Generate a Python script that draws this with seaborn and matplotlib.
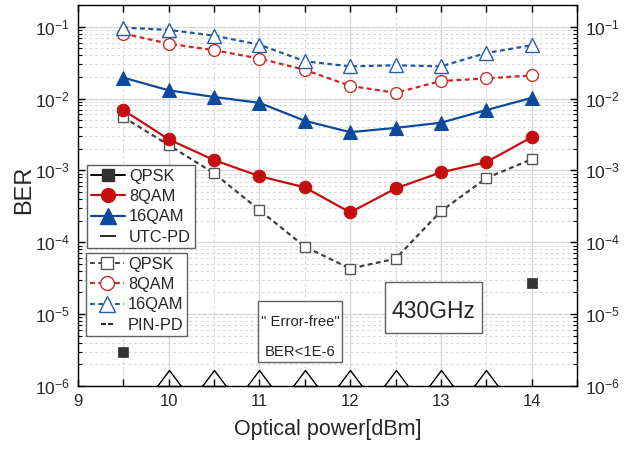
import numpy as np
import pandas as pd
import matplotlib
matplotlib.use("Agg")
import matplotlib.pyplot as plt
import seaborn as sns
from matplotlib.lines import Line2D
from matplotlib.path import Path
from matplotlib.patches import Rectangle
from matplotlib.ticker import LogLocator, MultipleLocator, NullFormatter, FixedLocator

nan = np.nan
power = [9.5, 10, 10.5, 11, 11.5, 12, 12.5, 13, 13.5, 14]
utc_qpsk = [3.0e-6, nan, nan, nan, nan, nan, nan, nan, nan, 2.75e-5]
utc_8qam = [6.9e-3, 2.7e-3, 1.39e-3, 8.3e-4, 5.8e-4, 2.6e-4, 5.6e-4, 9.4e-4, 1.3e-3, 2.9e-3]
utc_16qam = [1.95e-2, 1.3e-2, 1.05e-2, 8.7e-3, 4.9e-3, 3.4e-3, 3.9e-3, 4.6e-3, 6.9e-3, 1.02e-2]
pin_qpsk = [5.5e-3, 2.25e-3, 9.1e-4, 2.8e-4, 8.7e-5, 4.3e-5, 5.9e-5, 2.7e-4, 7.8e-4, 1.43e-3]
pin_8qam = [8.0e-2, 5.8e-2, 4.7e-2, 3.6e-2, 2.5e-2, 1.5e-2, 1.2e-2, 1.75e-2, 1.9e-2, 2.1e-2]
pin_16qam = [9.7e-2, 9.0e-2, 7.5e-2, 5.6e-2, 3.3e-2, 2.8e-2, 2.9e-2, 2.8e-2, 4.3e-2, 5.5e-2]
error_free_power = [10, 10.5, 11, 11.5, 12, 12.5, 13, 13.5]
error_free_ber = [1e-6] * 8

RED = "#c50f0f"
BLUE = "#0e4a9b"
DARK = "#333333"
DASH = (0, (3.5, 2.5))

sns.set_style("ticks")
plt.rcParams["font.family"] = ["Liberation Sans", "DejaVu Sans"]
plt.rcParams["mathtext.fontset"] = "custom"
plt.rcParams["mathtext.rm"] = "Liberation Sans"
plt.rcParams["lines.scale_dashes"] = False

fig = plt.figure(figsize=(6.24, 4.5), dpi=100)
ax = fig.add_axes([78 / 624, 1 - 386 / 450, 499 / 624, 381 / 450])


def series(y, **kw):
    d = pd.DataFrame({"power": power, "ber": y}).dropna()
    sns.lineplot(data=d, x="power", y="ber", ax=ax, errorbar=None, **kw)


series(pin_qpsk, color="#404040", lw=1.6, linestyle=DASH,
       marker="s", markersize=7.5, markerfacecolor="white", markeredgecolor="#555555",
       markeredgewidth=1.0)
series(pin_8qam, color="#d02424", lw=1.6, linestyle=DASH,
       marker="o", markersize=8.5, markerfacecolor="white", markeredgecolor="#c83030",
       markeredgewidth=1.0)
series(pin_16qam, color="#1f58ab", lw=1.6, linestyle=DASH,
       marker="^", markersize=10, markerfacecolor="white", markeredgecolor="#2a5ca8",
       markeredgewidth=1.0)
series(utc_8qam, color=RED, lw=1.6, marker="o", markersize=9,
       markerfacecolor=RED, markeredgecolor=RED)
series(utc_16qam, color=BLUE, lw=1.6, marker="^", markersize=10,
       markerfacecolor=BLUE, markeredgecolor=BLUE)
d_q = pd.DataFrame({"power": power, "ber": utc_qpsk}).dropna()
sns.scatterplot(data=d_q, x="power", y="ber", ax=ax, marker="s", s=60,
                color=DARK, edgecolor=DARK, linewidth=0.5, zorder=3)

tri = [(-1, 0), (1, 0), (0, 1.33), (-1, 0)]
d_e = pd.DataFrame({"power": error_free_power, "ber": error_free_ber})
sns.lineplot(data=d_e, x="power", y="ber", ax=ax, errorbar=None, linestyle="none",
             marker=tri, markersize=23, markerfacecolor="none", markeredgecolor="black",
             markeredgewidth=1.0, clip_on=False)

ax.set_yscale("log")
ax.set_xlim(9, 14.5)
ax.set_ylim(1e-6, 0.2)
ax.xaxis.set_major_locator(MultipleLocator(1))
ax.xaxis.set_minor_locator(FixedLocator([9.5, 10.5, 11.5, 12.5, 13.5, 14.5]))
ax.yaxis.set_major_locator(LogLocator(base=10, numticks=20))
ax.yaxis.set_minor_locator(LogLocator(base=10, subs=np.arange(2, 10), numticks=20))
ax.yaxis.set_minor_formatter(NullFormatter())

ax.grid(True, which="major", color="#d8d8d8", lw=1.0, ls="-")
ax.grid(True, which="minor", color="#d8d8d8", lw=0.8, ls=(0, (2, 2)))
ax.set_axisbelow(True)

ax.tick_params(axis="both", which="both", direction="in", top=True, right=True,
               labelright=True, color="black")
ax.tick_params(axis="x", which="major", length=5, width=1, labelsize=12, pad=6)
ax.tick_params(axis="x", which="minor", length=5, width=1)
ax.tick_params(axis="y", which="major", length=5, width=1, labelsize=12.5, pad=6)
ax.tick_params(axis="y", which="minor", length=3, width=0.8)
for sp in ax.spines.values():
    sp.set_linewidth(1.0)
    sp.set_color("black")

ax.set_xlabel("Optical power[dBm]", fontsize=15.5, labelpad=7)
ax.set_ylabel("BER", fontsize=17)
ax.yaxis.set_label_coords(-0.086, 0.514)

hline = Path([(-1, 0), (1, 0)], [Path.MOVETO, Path.LINETO])
dline = Path([(-1, 0), (-0.2, 0), (0.25, 0), (1, 0)],
             [Path.MOVETO, Path.LINETO, Path.MOVETO, Path.LINETO])

h_utc = [
    Line2D([], [], color="black", lw=1.4, marker="s", markersize=8,
           markerfacecolor=DARK, markeredgecolor=DARK),
    Line2D([], [], color=RED, lw=1.6, marker="o", markersize=10,
           markerfacecolor=RED, markeredgecolor=RED),
    Line2D([], [], color=BLUE, lw=1.6, marker="^", markersize=11,
           markerfacecolor=BLUE, markeredgecolor=BLUE),
    Line2D([], [], linestyle="none", marker=hline, markersize=11,
           markeredgecolor="black", markeredgewidth=1.2),
]
h_pin = [
    Line2D([], [], color="#404040", lw=1.4, linestyle=DASH, marker="s",
           markersize=8, markerfacecolor="white", markeredgecolor="#555555"),
    Line2D([], [], color="#d02424", lw=1.4, linestyle=DASH, marker="o",
           markersize=10, markerfacecolor="white", markeredgecolor="#c83030"),
    Line2D([], [], color="#1f58ab", lw=1.4, linestyle=DASH, marker="^",
           markersize=11, markerfacecolor="white", markeredgecolor="#2a5ca8"),
    Line2D([], [], linestyle="none", marker=dline, markersize=8,
           markeredgecolor="black", markeredgewidth=1.2),
]
leg_kw = dict(loc="upper left", fontsize=11.8, frameon=True, fancybox=False,
              edgecolor="#606060", framealpha=1, handlelength=2.1, handletextpad=0.25,
              labelspacing=0.33, borderpad=0.22, borderaxespad=0, numpoints=1)
leg1 = ax.legend(h_utc, ["QPSK", "8QAM", "16QAM", "UTC-PD"],
                 bbox_to_anchor=(0.018, 0.58), **leg_kw)
leg1.get_frame().set_linewidth(1.0)
ax.add_artist(leg1)
leg2 = ax.legend(h_pin, ["QPSK", "8QAM", "16QAM", "PIN-PD"],
                 bbox_to_anchor=(0.016, 0.349), **leg_kw)
leg2.get_frame().set_linewidth(1.0)

# "430GHz" box
ax.add_patch(Rectangle((0.615, 0.139), 0.1946, 0.134, transform=ax.transAxes,
                       fc="white", ec="#606060", lw=1.0, zorder=5))
ax.text(0.7125, 0.1785, "430GHz", transform=ax.transAxes, fontsize=16.5,
        ha="center", va="baseline", zorder=6)
# "Error-free" box
ax.add_patch(Rectangle((0.3607, 0.063), 0.1683, 0.160, transform=ax.transAxes,
                       fc="white", ec="#606060", lw=1.0, zorder=5))
ax.text(0.445, (386 - 326) / 381, "\" Error-free\"", transform=ax.transAxes,
        fontsize=10.7, ha="center", va="baseline", zorder=6)
ax.text(0.445, (386 - 356) / 381, "BER<1E-6", transform=ax.transAxes,
        fontsize=10.7, ha="center", va="baseline", zorder=6)

fig.savefig("out.png", dpi=100)
